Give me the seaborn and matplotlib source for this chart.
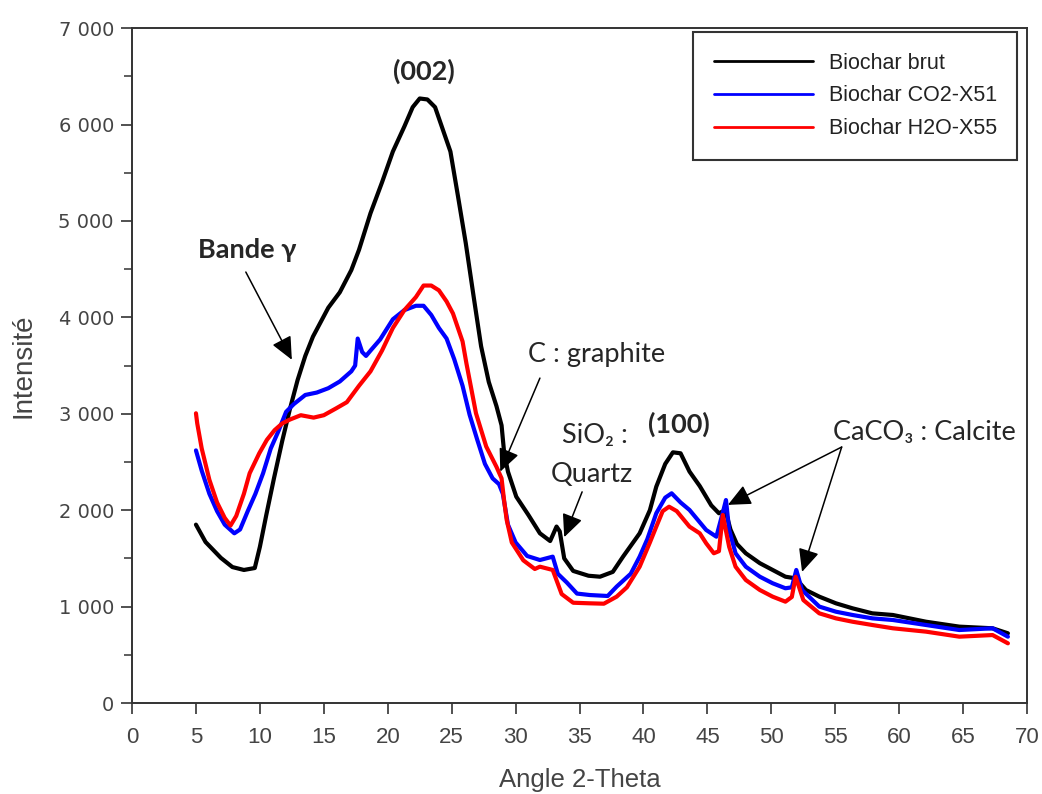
import matplotlib
matplotlib.use("Agg")
import matplotlib.pyplot as plt
import seaborn as sns
import pandas as pd
from matplotlib.ticker import FuncFormatter, MultipleLocator
from matplotlib.lines import Line2D

# ---------------- data ----------------
series_names = ["Biochar brut", "Biochar CO2-X51", "Biochar H2O-X55"]
series_colors = ["#000000", "#0000ff", "#ff0000"]

brut_x = [5.0, 5.75, 6.95, 7.85, 8.75, 9.6, 10.0, 10.5, 11.1, 11.75, 12.35, 12.95, 13.55, 14.15, 14.75,
          15.35, 16.25, 17.15, 17.75, 18.65, 19.55, 20.4, 21.3, 21.95, 22.5, 23.1, 23.7, 24.3, 24.9, 25.5,
          26.1, 26.7, 27.3, 27.9, 28.5, 28.9, 29.1, 29.4, 30.05, 31.0, 31.9, 32.7, 33.2, 33.45, 33.8, 34.5,
          35.7, 36.6, 37.6, 38.4, 39.7, 40.5, 41.0, 41.7, 42.3, 42.9, 43.6, 44.4, 45.3, 45.9, 46.4, 46.8,
          47.3, 48.0, 49.1, 50.1, 51.1, 51.9, 52.7, 53.75, 55.05, 56.35, 57.9, 59.5, 62.1, 64.7, 67.3, 68.5]
brut_y = [1850, 1670, 1505, 1410, 1380, 1400, 1620, 1950, 2330, 2720, 3050, 3350, 3600, 3800, 3950,
          4100, 4260, 4490, 4700, 5080, 5400, 5720, 5980, 6180, 6270, 6260, 6180, 5950, 5720, 5250,
          4770, 4230, 3700, 3330, 3080, 2880, 2600, 2400, 2140, 1950, 1760, 1680, 1830, 1780, 1500, 1370,
          1320, 1310, 1360, 1518, 1760, 2000, 2244, 2480, 2600, 2590, 2400, 2250, 2050, 1968, 2000, 1800,
          1650, 1553, 1450, 1380, 1310, 1293, 1172, 1103, 1034, 982, 930, 913, 843, 792, 775, 723]

co2_x = [5.0, 5.45, 6.05, 6.65, 7.25, 8.0, 8.45, 9.05, 9.65, 10.25, 10.85, 11.45, 12.05, 12.65, 13.55,
         14.45, 15.35, 16.25, 17.15, 17.45, 17.65, 18.0, 18.3, 18.65, 19.4, 20.4, 21.3, 22.2, 22.8, 23.4,
         24.0, 24.6, 25.2, 25.85, 26.4, 27.0, 27.6, 28.2, 28.7, 29.0, 29.4, 30.0, 30.9, 31.9, 32.9, 33.3,
         34.0, 34.8, 35.8, 37.2, 37.9, 39.0, 39.7, 40.3, 41.0, 41.7, 42.2, 42.9, 43.6, 44.9, 45.7, 46.25,
         46.45, 46.7, 47.2, 48.0, 49.1, 50.1, 51.1, 51.6, 51.95, 52.4, 53.75, 55.05, 56.35, 57.9, 59.5,
         62.1, 64.7, 67.3, 68.5]
co2_y = [2620, 2410, 2170, 1990, 1850, 1760, 1800, 1990, 2170, 2383, 2640, 2820, 3020, 3100, 3195,
         3220, 3265, 3335, 3440, 3500, 3780, 3640, 3600, 3655, 3770, 3980, 4075, 4120, 4120, 4025,
         3890, 3780, 3565, 3290, 2990, 2730, 2480, 2330, 2270, 2170, 1850, 1665, 1525, 1483, 1518, 1340,
         1250, 1135, 1120, 1110, 1207, 1340, 1518, 1700, 1968, 2130, 2175, 2080, 2002, 1795, 1725, 2000,
         2105, 1795, 1553, 1414, 1310, 1242, 1190, 1200, 1380, 1172, 1000, 947, 913, 878, 861,
         809, 757, 775, 688]

h2o_x = [5.0, 5.1, 5.45, 6.05, 6.65, 7.25, 7.7, 8.15, 8.75, 9.2, 9.95, 10.55, 11.15, 11.75, 12.35,
         13.2, 14.2, 15.0, 15.95, 16.8, 17.75, 18.65, 19.55, 20.4, 21.3, 22.2, 22.8, 23.4, 24.0, 24.6,
         25.1, 25.85, 26.15, 26.9, 27.7, 28.5, 28.9, 29.1, 29.3, 29.7, 30.6, 31.5, 31.9, 32.9, 33.6, 34.5,
         35.8, 36.9, 37.9, 38.7, 39.7, 40.5, 41.0, 41.5, 42.0, 42.6, 43.6, 44.4, 44.9, 45.5, 45.9, 46.2,
         46.7, 47.2, 48.0, 49.1, 50.1, 51.1, 51.6, 51.9, 52.5, 53.75, 55.05, 56.35, 57.9, 59.5, 62.1,
         64.7, 67.3, 68.5]
h2o_y = [3005, 2900, 2640, 2315, 2080, 1920, 1840, 1940, 2170, 2383, 2590, 2730, 2830, 2900, 2940,
         2985, 2960, 2985, 3055, 3120, 3290, 3440, 3655, 3890, 4075, 4210, 4330, 4330, 4280, 4165,
         4040, 3750, 3524, 3005, 2660, 2450, 2330, 2100, 1900, 1665, 1480, 1390, 1414, 1380, 1130, 1040,
         1034, 1030, 1103, 1200, 1414, 1665, 1829, 1990, 2036, 1990, 1829, 1760, 1657, 1553, 1575, 1950,
         1620, 1414, 1276, 1172, 1103, 1051, 1100, 1310, 1068, 930, 878, 843, 809, 775, 740,
         688, 705, 619]

x_ticks = list(range(0, 75, 5))
y_ticks = list(range(0, 7001, 1000))

# ---------------- style ----------------
sns.set_theme(style="ticks")
plt.rcParams["font.family"] = ["DejaVu Sans"]
NARROW = ["Liberation Sans"]
ANNOT = ["Lato", "DejaVu Sans"]

df = pd.concat([
    pd.DataFrame({"angle": brut_x, "intensite": brut_y, "serie": series_names[0]}),
    pd.DataFrame({"angle": co2_x, "intensite": co2_y, "serie": series_names[1]}),
    pd.DataFrame({"angle": h2o_x, "intensite": h2o_y, "serie": series_names[2]}),
], ignore_index=True)

fig = plt.figure(figsize=(10.42, 7.94), dpi=100)
ax = fig.add_axes([0.1267, 0.1146, 0.859, 0.850])

sns.lineplot(data=df, x="angle", y="intensite", hue="serie", hue_order=series_names,
             palette=dict(zip(series_names, series_colors)), estimator=None, sort=False,
             linewidth=3.0, ax=ax, legend=False)

ax.set_xlim(0, 70)
ax.set_ylim(0, 7000)
ax.set_xticks(x_ticks)
ax.set_yticks(y_ticks)
ax.yaxis.set_minor_locator(MultipleLocator(500))
ax.yaxis.set_major_formatter(FuncFormatter(lambda v, p: f"{int(v):,}".replace(",", " ")))

for s in ax.spines.values():
    s.set_color("#333333")
    s.set_linewidth(1.4)
ax.tick_params(axis="both", which="major", direction="out", length=8, width=1.2, color="#333333")
ax.tick_params(axis="y", which="minor", direction="out", length=6, width=1.1, color="#333333")
ax.tick_params(axis="y", labelsize=14, labelcolor="#444444", pad=5)
ax.tick_params(axis="x", labelsize=16, labelcolor="#444444", pad=9)
for lab in ax.get_xticklabels():
    lab.set_family(NARROW)

ax.set_xlabel("Angle 2-Theta", family=NARROW, fontsize=18.5, color="#444444", labelpad=15)
ax.set_ylabel("Intensité", family=NARROW, fontsize=20, color="#444444", labelpad=16)

# legend
handles = [Line2D([], [], color=c, lw=2) for c in series_colors]
leg = ax.legend(handles, series_names, loc="upper right", bbox_to_anchor=(0.989, 0.994),
                frameon=True, fancybox=False, framealpha=1, edgecolor="#333333",
                prop={"family": "Liberation Sans", "size": 15.5}, handlelength=4.6,
                handletextpad=0.75, labelspacing=0.55, borderpad=0.95, borderaxespad=0)
leg.get_frame().set_linewidth(1.5)
for t in leg.get_texts():
    t.set_color("#222222")

# annotations
arrow = dict(arrowstyle="-|>,head_length=0.7,head_width=0.32", color="black", lw=1.1,
             mutation_scale=20, shrinkA=0, shrinkB=0)
FS = 19.5

ax.text(22.8, 6550, "(002)", ha="center", va="center", fontsize=FS, fontweight="bold", family=ANNOT)
ax.text(42.8, 2890, "(100)", ha="center", va="center", fontsize=FS, fontweight="bold", family=ANNOT)
ax.text(9.0, 4700, "Bande γ", ha="center", va="center", fontsize=FS, fontweight="bold", family=ANNOT)
ax.annotate("", xy=(12.5, 3560), xytext=(8.9, 4470), arrowprops=arrow)

ax.text(36.3, 3610, "C : graphite", ha="center", va="center", fontsize=FS, family=ANNOT)
ax.annotate("", xy=(28.8, 2400), xytext=(31.9, 3370), arrowprops=arrow)

ax.text(36.2, 2770, "SiO₂ :", ha="center", va="center", fontsize=FS, family=ANNOT)
ax.text(36.0, 2365, "Quartz", ha="center", va="center", fontsize=FS, family=ANNOT)
ax.annotate("", xy=(33.8, 1720), xytext=(35.2, 2190), arrowprops=arrow)

ax.text(62.0, 2810, "CaCO₃ : Calcite", ha="center", va="center", fontsize=FS, family=ANNOT)
ax.annotate("", xy=(46.6, 2055), xytext=(55.5, 2655), arrowprops=arrow)
ax.annotate("", xy=(52.4, 1360), xytext=(55.5, 2655), arrowprops=arrow)

fig.savefig("out.png", dpi=100)
